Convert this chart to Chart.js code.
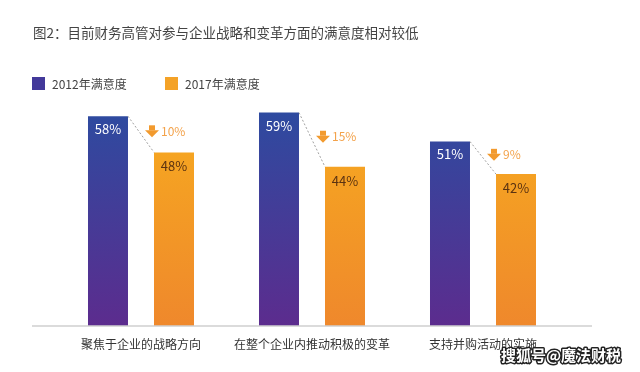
<!DOCTYPE html>
<html>
<head>
<meta charset="utf-8">
<script src="https://cdn.jsdelivr.net/npm/chart.js@4"></script>
<style>
  html, body { margin: 0; padding: 0; background: #fff; }
  #wrap { width: 640px; height: 372px; position: relative; }
</style>
</head>
<body>
<div id="wrap"><canvas id="satChart"></canvas></div>
<script>
// data
const categories = ['聚焦于企业的战略方向', '在整个企业内推动积极的变革', '支持并购活动的实施'];
const seriesNames = ['2012年满意度', '2017年满意度'];
const values2012 = [58, 59, 51];
const values2017 = [48, 44, 42];
const titleText = '图2：目前财务高管对参与企业战略和变革方面的满意度相对较低';
const watermark = '搜狐号@魔法财税';

const FONT = '"Noto Sans CJK SC", "Noto Sans", sans-serif';
const legendColors = ['#43399a', '#f4a227'];

function barGradient(ctx, top, bottom, kind) {
    const g = ctx.createLinearGradient(0, top, 0, bottom);
    if (kind === 0) {
        g.addColorStop(0, '#2d4ba0');
        g.addColorStop(1, '#5c2c8e');
    } else {
        g.addColorStop(0, '#f7ab1f');
        g.addColorStop(1, '#ef882c');
    }
    return g;
}

function fillFor(i) {
    return (c) => {
        const area = c.chart.chartArea;
        if (!area) return legendColors[i];
        return barGradient(c.chart.ctx, area.top, area.bottom, i);
    };
}

// draws title, legend, base line and the annotations
const decor = {
    id: 'decor',
    afterDraw(chart) {
        const ctx = chart.ctx;
        const area = chart.chartArea;
        ctx.save();

        // title
        ctx.font = '13.5px ' + FONT;
        ctx.fillStyle = '#444';
        ctx.textAlign = 'left';
        ctx.textBaseline = 'middle';
        ctx.fillText(titleText, 33, 33);

        // legend
        let lx = 32;
        seriesNames.forEach((name, i) => {
            ctx.fillStyle = legendColors[i];
            ctx.fillRect(lx, 77, 13, 13);
            ctx.font = '12px ' + FONT;
            ctx.fillStyle = '#444';
            ctx.fillText(name, lx + 20, 84);
            lx += 133;
        });

        // base line
        ctx.strokeStyle = '#cfcfcf';
        ctx.lineWidth = 1.5;
        ctx.beginPath();
        ctx.moveTo(32, area.bottom);
        ctx.lineTo(592, area.bottom);
        ctx.stroke();

        const m0 = chart.getDatasetMeta(0).data;
        const m1 = chart.getDatasetMeta(1).data;
        ctx.font = '13px ' + FONT;
        ctx.textAlign = 'center';
        m0.forEach((b, j) => {
            const o = m1[j];
            ctx.fillStyle = '#fff';
            ctx.fillText(values2012[j] + '%', b.x, b.y + 13);
            ctx.fillStyle = '#5a3211';
            ctx.fillText(values2017[j] + '%', o.x, o.y + 14);

            // dashed connector
            const bx = b.x + b.width / 2;
            const ox = o.x - o.width / 2;
            ctx.strokeStyle = '#a0a0a0';
            ctx.lineWidth = 1;
            ctx.setLineDash([2, 2]);
            ctx.beginPath();
            ctx.moveTo(bx, b.y);
            ctx.lineTo(ox, o.y);
            ctx.stroke();
            ctx.setLineDash([]);

            // down arrow + drop
            const ay = (b.y + o.y) / 2 - 3;
            const ax = ox - 2;
            ctx.fillStyle = '#f29a2e';
            ctx.fillRect(ax - 3, ay - 6, 6, 5);
            ctx.beginPath();
            ctx.moveTo(ax - 7, ay - 1);
            ctx.lineTo(ax + 7, ay - 1);
            ctx.lineTo(ax, ay + 6);
            ctx.closePath();
            ctx.fill();
            ctx.font = '12px ' + FONT;
            ctx.textAlign = 'left';
            ctx.fillStyle = '#f3a24a';
            ctx.fillText((values2012[j] - values2017[j]) + '%', ax + 9, ay);
            ctx.font = '13px ' + FONT;
            ctx.textAlign = 'center';
        });

        // watermark
        ctx.font = 'bold 15px ' + FONT;
        ctx.textAlign = 'left';
        ctx.lineWidth = 3;
        ctx.lineJoin = 'round';
        ctx.strokeStyle = '#222';
        ctx.strokeText(watermark, 501, 355);
        ctx.fillStyle = '#fff';
        ctx.fillText(watermark, 501, 355);

        ctx.restore();
    }
};

const ctx = document.getElementById('satChart').getContext('2d');
new Chart(ctx, {
    type: 'bar',
    data: {
        labels: categories,
        datasets: [
            { label: seriesNames[0], data: values2012, backgroundColor: fillFor(0) },
            { label: seriesNames[1], data: values2017, backgroundColor: fillFor(1) }
        ]
    },
    options: {
        responsive: true,
        maintainAspectRatio: false,
        animation: false,
        categoryPercentage: 0.772,
        barPercentage: 0.606,
        layout: { padding: { left: 55.5, right: 71.5, top: 109, bottom: 17.6 } },
        plugins: {
            legend: { display: false },
            title: { display: false },
            tooltip: { enabled: false }
        },
        scales: {
            x: {
                grid: { display: false },
                border: { display: false },
                ticks: {
                    padding: 3,
                    color: '#333',
                    font: { size: 12, family: FONT },
                    maxRotation: 0,
                    autoSkip: false
                }
            },
            y: {
                display: false,
                min: 0,
                max: 60
            }
        }
    },
    plugins: [decor]
});
</script>
</body>
</html>
